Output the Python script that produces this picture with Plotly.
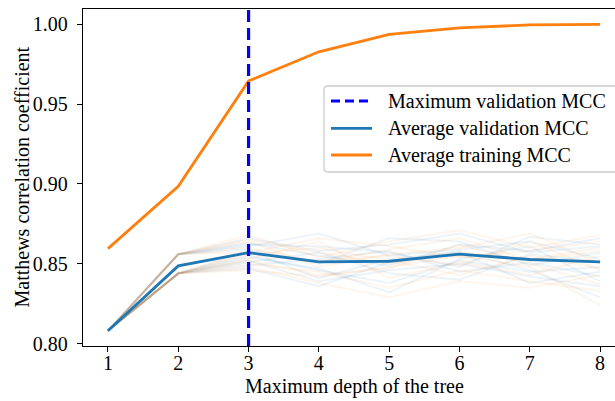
import plotly.graph_objects as go

# Tree depth grid searched during cross-validation
depths = [1, 2, 3, 4, 5, 6, 7, 8]

# Mean MCC over all folds
avg_train_mcc = [0.8595, 0.8985, 0.9645, 0.9828, 0.9937, 0.9978, 0.9996, 1.0000]
avg_val_mcc = [0.8080, 0.8487, 0.8570, 0.8512, 0.8516, 0.8560, 0.8527, 0.8512]

# Per-fold validation MCC, first group of runs
val_runs_a = [
    [0.808, 0.856, 0.866, 0.858, 0.862, 0.869, 0.857, 0.861],
    [0.808, 0.844, 0.852, 0.839, 0.846, 0.850, 0.842, 0.836],
    [0.808, 0.856, 0.861, 0.869, 0.855, 0.859, 0.864, 0.853],
    [0.808, 0.844, 0.855, 0.846, 0.838, 0.852, 0.845, 0.848],
    [0.808, 0.844, 0.849, 0.853, 0.858, 0.845, 0.851, 0.842],
    [0.808, 0.856, 0.863, 0.855, 0.849, 0.862, 0.858, 0.866],
    [0.808, 0.844, 0.858, 0.841, 0.853, 0.857, 0.838, 0.845],
    [0.808, 0.844, 0.851, 0.857, 0.844, 0.840, 0.856, 0.851],
    [0.808, 0.856, 0.859, 0.850, 0.866, 0.864, 0.849, 0.857],
    [0.808, 0.844, 0.854, 0.847, 0.832, 0.853, 0.861, 0.839],
    [0.808, 0.844, 0.847, 0.836, 0.851, 0.858, 0.846, 0.829],
    [0.808, 0.856, 0.862, 0.861, 0.857, 0.848, 0.867, 0.862],
]

# Per-fold validation MCC, second group of runs
val_runs_b = [
    [0.808, 0.856, 0.868, 0.854, 0.864, 0.871, 0.860, 0.868],
    [0.808, 0.844, 0.850, 0.845, 0.835, 0.846, 0.839, 0.833],
    [0.808, 0.844, 0.856, 0.860, 0.852, 0.843, 0.855, 0.847],
    [0.808, 0.856, 0.860, 0.851, 0.859, 0.866, 0.852, 0.858],
    [0.808, 0.844, 0.846, 0.842, 0.848, 0.855, 0.848, 0.824],
    [0.808, 0.844, 0.853, 0.864, 0.841, 0.851, 0.843, 0.855],
    [0.808, 0.856, 0.864, 0.848, 0.856, 0.860, 0.869, 0.850],
    [0.808, 0.844, 0.848, 0.838, 0.829, 0.839, 0.835, 0.843],
    [0.808, 0.856, 0.857, 0.866, 0.861, 0.854, 0.858, 0.864],
    [0.808, 0.844, 0.852, 0.843, 0.847, 0.862, 0.850, 0.837],
    [0.808, 0.844, 0.857, 0.852, 0.855, 0.849, 0.864, 0.846],
    [0.808, 0.856, 0.865, 0.857, 0.850, 0.857, 0.853, 0.860],
]

legend_labels = ["Maximum validation MCC", "Average validation MCC", "Average training MCC"]
x_title = "Maximum depth of the tree"
y_title = "Matthews correlation coefficient"

BLUE = "#1f77b4"
ORANGE = "#ff7f0e"
FONT = "Liberation Serif"
FS = 20

W, H = 615, 401
ML, MR, MT, MB = 83, 0, 9, 55
X_RANGE = [0.645, 8.212]
Y_RANGE = [0.7985, 1.0096]

best_depth = depths[max(range(len(depths)), key=lambda i: avg_val_mcc[i])]

fig = go.Figure()

for run in val_runs_a:
    fig.add_trace(go.Scatter(x=depths, y=run, mode="lines", showlegend=False,
                             hoverinfo="skip",
                             line=dict(color="rgba(31,119,180,0.08)", width=2)))
for run in val_runs_b:
    fig.add_trace(go.Scatter(x=depths, y=run, mode="lines", showlegend=False,
                             hoverinfo="skip",
                             line=dict(color="rgba(255,127,14,0.08)", width=2)))

fig.add_trace(go.Scatter(x=depths, y=avg_val_mcc, mode="lines", showlegend=False,
                         line=dict(color=BLUE, width=2.8)))
fig.add_trace(go.Scatter(x=depths, y=avg_train_mcc, mode="lines", showlegend=False,
                         line=dict(color=ORANGE, width=2.8)))
fig.add_trace(go.Scatter(x=[best_depth, best_depth], y=Y_RANGE, mode="lines",
                         showlegend=False,
                         line=dict(color="blue", width=3.2, dash="12px,6px")))

# Legend box and axis titles placed in pixel space, converted to paper coordinates
pw, ph = W - ML - MR, H - MT - MB


def px(x):
    return (x - ML) / pw


def py(y):
    return 1 - (y - MT) / ph


x0, x1, y0, y1, r = 324, 622, 86, 172, 4
path = (f"M {px(x0 + r)},{py(y0)} L {px(x1 - r)},{py(y0)} "
        f"Q {px(x1)},{py(y0)} {px(x1)},{py(y0 + r)} L {px(x1)},{py(y1 - r)} "
        f"Q {px(x1)},{py(y1)} {px(x1 - r)},{py(y1)} L {px(x0 + r)},{py(y1)} "
        f"Q {px(x0)},{py(y1)} {px(x0)},{py(y1 - r)} L {px(x0)},{py(y0 + r)} "
        f"Q {px(x0)},{py(y0)} {px(x0 + r)},{py(y0)} Z")
shapes = [dict(type="path", xref="paper", yref="paper", path=path,
               fillcolor="rgba(255,255,255,0.8)",
               line=dict(color="#cccccc", width=1.3), layer="above")]

rows = [101, 128.3, 155]
styles = [dict(color="blue", width=3.2, dash="9px,5px"),
          dict(color=BLUE, width=2.8),
          dict(color=ORANGE, width=2.8)]
annotations = []
for yy, st, lab in zip(rows, styles, legend_labels):
    shapes.append(dict(type="line", xref="paper", yref="paper", layer="above",
                       x0=px(331), x1=px(372), y0=py(yy), y1=py(yy), line=st))
    annotations.append(dict(xref="paper", yref="paper", x=px(386), y=py(yy),
                            xanchor="left", yanchor="middle", showarrow=False,
                            text=lab, font=dict(family=FONT, size=FS, color="black")))

annotations.append(dict(xref="paper", yref="paper", x=px(21), y=0.5,
                        xanchor="center", yanchor="middle", showarrow=False,
                        textangle=-90, text=y_title,
                        font=dict(family=FONT, size=FS, color="black")))
annotations.append(dict(xref="paper", yref="paper", x=px(354), y=py(386),
                        xanchor="center", yanchor="middle", showarrow=False,
                        text=x_title,
                        font=dict(family=FONT, size=FS, color="black")))

fig.update_layout(
    width=W, height=H,
    margin=dict(l=ML, r=MR, t=MT, b=MB),
    paper_bgcolor="white", plot_bgcolor="white",
    font=dict(family=FONT, size=FS, color="black"),
    shapes=shapes, annotations=annotations,
    showlegend=False,
    xaxis=dict(range=X_RANGE, tickvals=depths, ticktext=[str(d) for d in depths],
               showgrid=False, zeroline=False, showline=True, mirror=True,
               linecolor="black", linewidth=1.4, ticks="outside", ticklen=5,
               tickwidth=1.4, tickcolor="black", ticklabelstandoff=-6),
    yaxis=dict(range=Y_RANGE, tickvals=[0.80, 0.85, 0.90, 0.95, 1.00],
               ticktext=["0.80", "0.85", "0.90", "0.95", "1.00"],
               showgrid=False, zeroline=False, showline=True, mirror=False,
               linecolor="black", linewidth=1.4, ticks="outside", ticklen=5,
               tickwidth=1.4, tickcolor="black", ticklabelstandoff=5),
)

fig.write_html("out.html")
